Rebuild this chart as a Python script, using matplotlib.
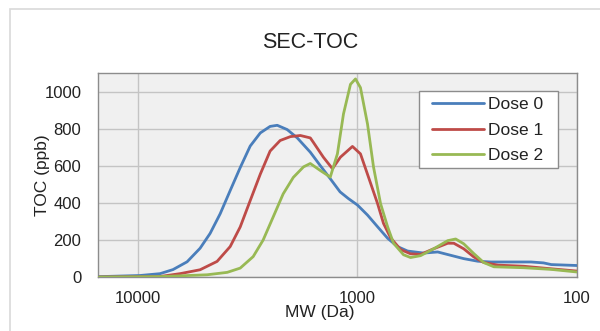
import matplotlib
matplotlib.use("Agg")
import matplotlib.pyplot as plt
from matplotlib.patches import Rectangle

plt.rcParams['font.family'] = ['Liberation Sans', 'DejaVu Sans']

# Data (MW in Da, TOC in ppb)
mw_dose0 = [15000, 9790, 7930, 6920, 5970, 5210, 4690, 4220, 3800, 3420, 3080, 2770,
            2500, 2320, 2090, 1880, 1640, 1480, 1330, 1200, 1100, 1000, 900, 810,
            729, 657, 591, 499, 431, 376, 328, 283, 247, 200, 162, 142, 131, 100]
toc_dose0 = [2, 8, 18, 40, 82, 155, 235, 341, 466, 590, 706, 777,
             812, 818, 795, 750, 673, 602, 530, 459, 423, 388, 334, 271,
             209, 164, 140, 129, 135, 117, 99, 85, 81, 81, 81, 76, 67, 62]

mw_dose1 = [15000, 8000, 6430, 5210, 4360, 3800, 3420, 3080, 2770, 2500, 2250, 2020,
            1820, 1640, 1590, 1430, 1300, 1196, 1054, 969, 891, 810, 761, 707,
            636, 573, 516, 450, 388, 364, 328, 295, 266, 229, 175, 136, 100]
toc_dose1 = [0, 2, 18, 39, 84, 164, 270, 412, 555, 679, 736, 757,
             763, 750, 727, 646, 584, 646, 704, 664, 539, 396, 289, 212,
             148, 125, 122, 152, 182, 182, 152, 108, 78, 64, 58, 46, 32]

mw_dose2 = [15000, 8000, 4840, 3920, 3420, 2985, 2690, 2420, 2180, 1960, 1760, 1640,
            1480, 1330, 1234, 1158, 1076, 1021, 969, 900, 845, 785, 729, 685,
            617, 573, 516, 450, 388, 357, 328, 295, 266, 239, 175, 131, 100]
toc_dose2 = [0, 2, 12, 25, 48, 110, 199, 324, 448, 537, 594, 612,
             575, 539, 664, 879, 1039, 1068, 1021, 825, 593, 396, 271, 182,
             120, 105, 115, 152, 196, 205, 179, 126, 78, 55, 50, 41, 27]

series_labels = ["Dose 0", "Dose 1", "Dose 2"]
series_colors = ["#4a7ebb", "#be4b48", "#98b954"]
x_ticks = [10000, 1000, 100]
x_tick_labels = ["10000", "1000", "100"]
y_ticks = [0, 200, 400, 600, 800, 1000]

W, H = 600, 331
fig = plt.figure(figsize=(W / 100, H / 100), dpi=100)
fig.patch.set_facecolor("white")

# outer chart border
fig.patches.append(Rectangle((10 / W, -0.05), 1.1, 1 - 9 / H + 0.05,
                             transform=fig.transFigure, fill=False,
                             edgecolor="#d9d9d9", linewidth=1.2, zorder=0))

ax = fig.add_axes([98 / W, 1 - 277 / H, 479 / W, 204 / H])
ax.set_facecolor("#f0f0f0")

lines = []
for mw, toc, lab, col in zip([mw_dose0, mw_dose1, mw_dose2],
                             [toc_dose0, toc_dose1, toc_dose2],
                             series_labels, series_colors):
    ln, = ax.plot(mw, toc, color=col, lw=2.0, label=lab, solid_joinstyle="round",
                  solid_capstyle="round", zorder=3)
    lines.append(ln)

ax.set_xscale("log")
ax.set_xlim(15200, 100)
ax.set_ylim(0, 1100)
ax.set_xticks(x_ticks)
ax.set_xticklabels(x_tick_labels)
ax.xaxis.set_minor_locator(matplotlib.ticker.NullLocator())
ax.set_yticks(y_ticks)
ax.tick_params(axis="both", length=0, labelsize=12, colors="#222222")
ax.tick_params(axis="y", pad=12)
ax.tick_params(axis="x", pad=10)
ax.grid(True, color="#c4c4c4", lw=1.0, zorder=1)
ax.set_axisbelow(True)
for s in ax.spines.values():
    s.set_color("#8c8c8c")
    s.set_linewidth(1.0)

fig.text(310 / W, 1 - 42 / H, "SEC-TOC", fontsize=15.5, color="#222222",
         ha="center", va="center")
ax.set_xlabel("MW (Da)", fontsize=12.5, color="#222222")
ax.xaxis.set_label_coords((320 - 98) / 479, (277 - 312) / 204)
ax.xaxis.label.set_va("center")
ax.set_ylabel("TOC (ppb)", fontsize=12.5, color="#222222")
ax.yaxis.set_label_coords((42 - 98) / 479, 0.5)
ax.yaxis.label.set_va("center")

# legend box (frame drawn separately to match padding)
ax.add_patch(Rectangle(((419 - 98) / 479, (277 - 168) / 204), 139 / 479, 77 / 204,
                       transform=ax.transAxes, facecolor="white",
                       edgecolor="#8c8c8c", lw=1.0, zorder=4))
leg = ax.legend(handles=lines, loc="upper left",
                bbox_to_anchor=((432 - 98) / 479, (277 - 97) / 204),
                fontsize=12.5, frameon=False, handlelength=3.0,
                handletextpad=0.25, labelspacing=0.6, borderpad=0,
                borderaxespad=0)
leg.set_zorder(5)
for t in leg.get_texts():
    t.set_color("#222222")

fig.savefig("out.png", dpi=100, facecolor="white")
